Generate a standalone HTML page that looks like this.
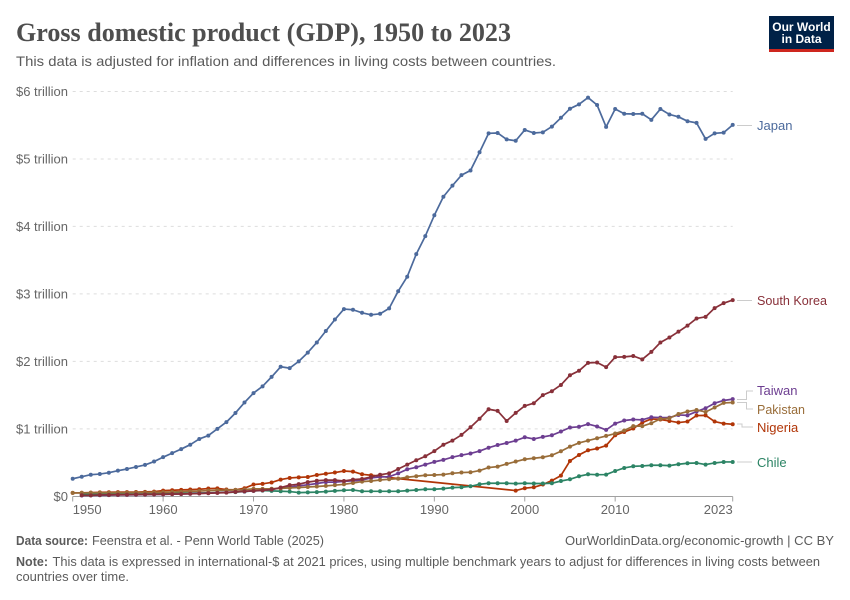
<!DOCTYPE html>
<html lang="en">
<head>
<meta charset="utf-8">
<title>Gross domestic product (GDP), 1950 to 2023</title>
<style>
html,body{margin:0;padding:0;background:#fff;width:850px;height:600px;overflow:hidden}
svg{display:block}
text{font-family:"Liberation Sans",sans-serif}
</style>
</head>
<body>
<svg id="chart" width="850" height="600" viewBox="0 0 850 600" xmlns="http://www.w3.org/2000/svg">
  <rect width="850" height="600" fill="#fff"/>
  <text x="16" y="41" font-size="26" font-weight="bold" fill="#4e4e4e" textLength="495" lengthAdjust="spacingAndGlyphs" style="font-family:'Liberation Serif',serif">Gross domestic product (GDP), 1950 to 2023</text>
  <text x="16" y="66" font-size="14" fill="#5b5b5b" textLength="540" lengthAdjust="spacingAndGlyphs">This data is adjusted for inflation and differences in living costs between countries.</text>

  <g>
    <rect x="769" y="16" width="65" height="36" fill="#002147"/>
    <rect x="769" y="49" width="65" height="3" fill="#ce261e"/>
    <text x="801.5" y="31" font-size="12" font-weight="bold" fill="#fff" text-anchor="middle">Our World</text>
    <text x="801.5" y="43" font-size="12" font-weight="bold" fill="#fff" text-anchor="middle">in Data</text>
  </g>

  <g id="grid"></g>
  <g id="yticks"></g>
  <g id="xaxis"></g>
  <g id="series"></g>

  <g font-size="13">
    <path d="M737 125.5H752" stroke="#ccc" fill="none"/>
    <path d="M737 300.5H752" stroke="#ccc" fill="none"/>
    <path d="M737 399.5H746.5V391H753" stroke="#ccc" fill="none"/>
    <path d="M737 402.5H746.5V409H753" stroke="#ccc" fill="none"/>
    <path d="M737 424H742V427H753" stroke="#ccc" fill="none"/>
    <path d="M737 462H752" stroke="#ccc" fill="none"/>
    <text x="757" y="130" fill="#4C6A9C">Japan</text>
    <text x="757" y="305" fill="#883039" textLength="70" lengthAdjust="spacingAndGlyphs">South Korea</text>
    <text x="757" y="395" fill="#6D3E91">Taiwan</text>
    <text x="757" y="414" fill="#996D39" textLength="48" lengthAdjust="spacingAndGlyphs">Pakistan</text>
    <text x="757" y="432" fill="#B13507">Nigeria</text>
    <text x="757" y="467" fill="#2C8465">Chile</text>
  </g>

  <text x="16" y="545" font-size="13" font-weight="bold" fill="#5b5b5b" textLength="72" lengthAdjust="spacingAndGlyphs">Data source:</text>
  <text x="92" y="545" font-size="13" fill="#5b5b5b" textLength="232" lengthAdjust="spacingAndGlyphs">Feenstra et al. - Penn World Table (2025)</text>
  <text x="834" y="545" font-size="13" fill="#5b5b5b" text-anchor="end" textLength="269" lengthAdjust="spacingAndGlyphs">OurWorldinData.org/economic-growth | CC BY</text>
  <text x="16" y="566" font-size="13" font-weight="bold" fill="#5b5b5b" textLength="32" lengthAdjust="spacingAndGlyphs">Note:</text>
  <text x="52.5" y="566" font-size="13" fill="#5b5b5b" textLength="767.5" lengthAdjust="spacingAndGlyphs">This data is expressed in international-$ at 2021 prices, using multiple benchmark years to adjust for differences in living costs between</text>
  <text x="16" y="581" font-size="13" fill="#5b5b5b" textLength="113" lengthAdjust="spacingAndGlyphs">countries over time.</text>
</svg>
<script>
const startYear = 1950;
const endYear = 2023;
const yTickValues = [0, 1, 2, 3, 4, 5, 6];
const yTickLabels = ["$0", "$1 trillion", "$2 trillion", "$3 trillion", "$4 trillion", "$5 trillion", "$6 trillion"];
const xTickYears = [1950, 1960, 1970, 1980, 1990, 2000, 2010, 2023];

const japan = [.26,.29,.32,.33,.35,.38,.405,.435,.465,.515,
.58,.64,.70,.765,.85,.90,1.0,1.10,1.235,1.39,
1.53,1.63,1.77,1.92,1.90,2.0,2.13,2.28,2.45,2.62,
2.775,2.765,2.72,2.69,2.705,2.785,3.04,3.255,3.59,3.857,
4.165,4.44,4.605,4.76,4.83,5.10,5.38,5.385,5.29,5.27,
5.43,5.385,5.395,5.48,5.61,5.745,5.81,5.91,5.80,5.475,
5.74,5.67,5.667,5.67,5.58,5.74,5.66,5.625,5.56,5.535,
5.297,5.38,5.39,5.505];

const southKorea = [null,.015,.014,.02,.022,.023,.024,.026,.027,.028,
.03,.032,.034,.038,.042,.045,.05,.055,.065,.075,
.082,.09,.10,.13,.165,.18,.21,.23,.24,.24,
.227,.247,.257,.287,.32,.34,.405,.47,.534,.593,
.67,.765,.826,.91,1.024,1.15,1.29,1.266,1.117,1.236,
1.34,1.38,1.50,1.558,1.65,1.795,1.86,1.978,1.983,1.914,
2.062,2.067,2.08,2.03,2.14,2.28,2.354,2.44,2.53,2.636,
2.66,2.79,2.863,2.908];

const taiwan = [null,.012,.014,.016,.018,.02,.021,.023,.025,.027,
.029,.032,.035,.038,.043,.048,.052,.058,.065,.072,
.08,.09,.10,.125,.138,.155,.17,.19,.21,.21,
.22,.23,.24,.272,.287,.29,.34,.40,.43,.47,
.51,.54,.58,.61,.635,.67,.72,.76,.79,.825,
.875,.85,.88,.905,.96,1.02,1.03,1.07,1.035,.984,
1.078,1.123,1.138,1.133,1.172,1.167,1.167,1.206,1.2,1.256,
1.306,1.38,1.42,1.44];

const pakistan = [.05,.05,.052,.052,.053,.054,.055,.056,.057,.058,
.06,.064,.068,.073,.078,.084,.088,.09,.095,.10,
.11,.11,.112,.118,.125,.13,.138,.145,.155,.165,
.178,.197,.218,.227,.242,.252,.262,.282,.297,.312,
.316,.322,.341,.352,.356,.381,.426,.44,.48,.515,
.549,.564,.579,.608,.668,.737,.791,.826,.86,.895,
.93,.975,1.04,1.04,1.083,1.147,1.157,1.22,1.256,1.28,
1.25,1.316,1.384,1.39];

const nigeria = [.05,.052,.055,.058,.06,.062,.062,.063,.065,.07,
.085,.09,.095,.10,.105,.115,.118,.10,.095,.12,
.174,.185,.205,.248,.272,.28,.287,.316,.335,.352,
.375,.366,.326,.312,.30,.28,.262,null,null,null,
null,null,null,null,null,null,null,null,null,.085,
.12,.134,.174,.233,.307,.524,.613,.682,.708,.752,
.905,.954,1.004,1.093,1.147,1.138,1.117,1.093,1.108,1.197,
1.2,1.108,1.078,1.068];

const chile = [null,.03,.03,.032,.032,.033,.034,.035,.036,.038,
.04,.042,.045,.047,.05,.052,.055,.058,.062,.07,
.08,.085,.08,.075,.07,.055,.058,.062,.07,.08,
.089,.094,.074,.074,.074,.074,.074,.084,.093,.104,
.104,.114,.129,.134,.148,.178,.193,.193,.193,.188,
.193,.19,.19,.193,.227,.252,.297,.326,.32,.322,
.375,.42,.445,.45,.46,.46,.455,.475,.49,.494,
.47,.494,.509,.509];

const NS = "http://www.w3.org/2000/svg";
function xScale(year) { return 72.7 + (year - startYear) * (732.7 - 72.7) / (endYear - startYear); }
function yScale(v) { return 496.3 - v * (496.3 - 91.5) / 6; }
function make(tag, parent) {
  const el = document.createElementNS(NS, tag);
  parent.appendChild(el);
  return el;
}

const gridGroup = document.getElementById("grid");
const yTickGroup = document.getElementById("yticks");
yTickValues.forEach(function (v, i) {
  if (v !== 0) {
    const line = make("line", gridGroup);
    
    
    line.setAttribute("x1", 72.7);
    line.setAttribute("x2", 732.7);
    line.setAttribute("y1", yScale(v));
    line.setAttribute("y2", yScale(v));
    line.setAttribute("stroke", "#dddddd");
    line.setAttribute("stroke-dasharray", "3,4");
  }
  const label = make("text", yTickGroup);
  
  
  label.setAttribute("x", 68);
  label.setAttribute("y", yScale(v) + 4.7);
  label.setAttribute("text-anchor", "end");
  label.setAttribute("font-size", "13");
  label.setAttribute("fill", "#666");
  label.textContent = yTickLabels[i];
});

const xGroup = document.getElementById("xaxis");
const axisLine = make("line", xGroup);


axisLine.setAttribute("x1", xScale(startYear));
axisLine.setAttribute("x2", xScale(endYear));
axisLine.setAttribute("y1", 496.5);
axisLine.setAttribute("y2", 496.5);
axisLine.setAttribute("stroke", "#a1a1a1");
xTickYears.forEach(function (year, i) {
  const tick = make("line", xGroup);
  
  
  tick.setAttribute("x1", xScale(year));
  tick.setAttribute("x2", xScale(year));
  tick.setAttribute("y1", 496.5);
  tick.setAttribute("y2", 501.5);
  tick.setAttribute("stroke", "#a1a1a1");
  const label = make("text", xGroup);
  
  
  const isFirst = i === 0;
  const isLast = i === xTickYears.length - 1;
  label.setAttribute("x", xScale(year));
  label.setAttribute("y", 514);
  label.setAttribute("text-anchor", isFirst ? "start" : isLast ? "end" : "middle");
  label.setAttribute("font-size", "13");
  label.setAttribute("fill", "#666");
  label.textContent = year;
});

function drawSeries(values, colour, name) {
  const host = document.getElementById("series");
  const group = make("g", host);
  
  
  const pts = [];
  values.forEach(function (v, i) {
    if (v !== null) pts.push([xScale(startYear + i), yScale(v)]);
  });
  const d = pts.map(function (p) { return p[0].toFixed(2) + "," + p[1].toFixed(2); }).join(" ");
  const line = make("polyline", group);
  
  
  line.setAttribute("points", d);
  line.setAttribute("fill", "none");
  line.setAttribute("stroke", colour);
  line.setAttribute("stroke-width", "1.7");
  line.setAttribute("stroke-linejoin", "round");
  pts.forEach(function (p) {
    const dot = make("circle", group);
    
    
    dot.setAttribute("cx", p[0].toFixed(2));
    dot.setAttribute("cy", p[1].toFixed(2));
    dot.setAttribute("r", "2");
    dot.setAttribute("fill", colour);
  });
}

drawSeries(nigeria, "#B13507", "nigeria-series");
drawSeries(chile, "#2C8465", "chile-series");
drawSeries(taiwan, "#6D3E91", "taiwan-series");
drawSeries(pakistan, "#996D39", "pakistan-series");
drawSeries(southKorea, "#883039", "south-korea-series");
drawSeries(japan, "#4C6A9C", "japan-series");
</script>
</body>
</html>
